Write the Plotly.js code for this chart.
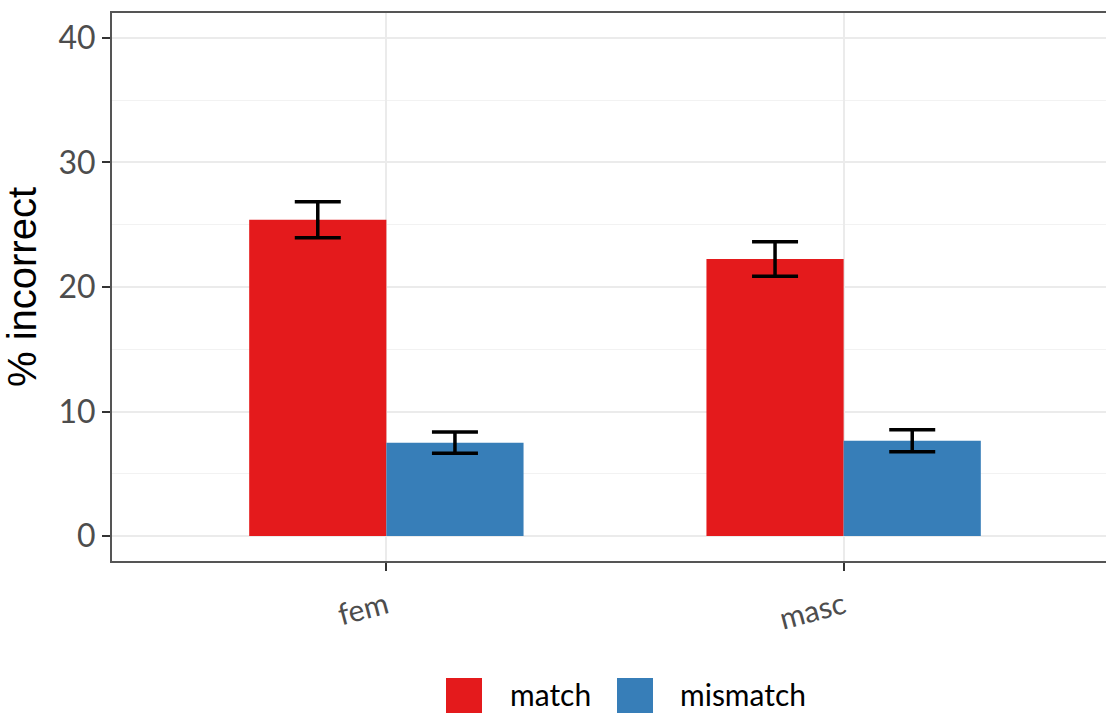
<!DOCTYPE html>
<html>
<head>
<meta charset="utf-8">
<script src="https://cdn.plot.ly/plotly-3.0.1.min.js"></script>
<style>
  html, body { margin: 0; padding: 0; overflow: hidden; background: #ffffff; }
  #chart { width: 1118px; height: 713px; }
</style>
</head>
<body>
<div id="chart"></div>
<script>
// Share of incorrect responses by gender and agreement condition
const genders = ['fem', 'masc'];
const matchPct = [25.4, 22.25];
const matchSE = [1.45, 1.38];
const mismatchPct = [7.5, 7.65];
const mismatchSE = [0.85, 0.88];
const groups = ['match', 'mismatch'];
const groupColors = ['#E41A1C', '#377EB8'];
const yTicks = [0, 10, 20, 30, 40];

const W = 1118, H = 713;
const M = { l: 112, r: 0, t: 13, b: 152 };
const plotW = W - M.l - M.r, plotH = H - M.t - M.b;
const px2x = px => (px - M.l) / plotW;
const py2y = py => (H - M.b - py) / plotH;

const labelFont = 'Lato, "Open Sans", sans-serif';

function barTrace(name, vals, se, color) {
  return {
    type: 'bar',
    name: name,
    x: genders,
    y: vals,
    marker: { color: color, line: { width: 0 } },
    error_y: { type: 'data', array: se, visible: true, color: '#000000', thickness: 3.5, width: 23 },
    showlegend: false,
    hoverinfo: 'x+y+name'
  };
}

const traces = [
  barTrace(groups[0], matchPct, matchSE, groupColors[0]),
  barTrace(groups[1], mismatchPct, mismatchSE, groupColors[1])
];

// Legend keys drawn as large squares below the x axis
const legendKeys = [
  { label: groups[0], color: groupColors[0], x0: 446, x1: 482, tx: 508 },
  { label: groups[1], color: groupColors[1], x0: 617, x1: 653, tx: 678 }
];
const shapes = legendKeys.map(k => ({
  type: 'rect', xref: 'paper', yref: 'paper',
  x0: px2x(k.x0), x1: px2x(k.x1), y0: py2y(678), y1: py2y(714),
  fillcolor: k.color, line: { width: 0 }, layer: 'above'
}));
const annotations = legendKeys.map(k => ({
  xref: 'paper', yref: 'paper', x: px2x(k.tx), y: py2y(694),
  xanchor: 'left', yanchor: 'middle', showarrow: false,
  text: k.label, font: { family: labelFont, size: 30, color: '#000000' }
}));

const layout = {
  width: W, height: H,
  margin: M,
  paper_bgcolor: '#ffffff', plot_bgcolor: '#ffffff',
  barmode: 'group', bargap: 0.4, bargroupgap: 0,
  showlegend: false,
  xaxis: {
    type: 'category', range: [-0.6, 1.6],
    showgrid: true, gridcolor: '#ebebeb', gridwidth: 2,
    showline: true, linecolor: '#555555', linewidth: 2, mirror: true,
    ticks: 'outside', ticklen: 8, tickwidth: 2, tickcolor: '#333333',
    tickangle: -15,
    tickfont: { family: labelFont, size: 30, color: '#4d4d4d' },
    ticklabelstandoff: 6,
    zeroline: false, fixedrange: true
  },
  yaxis: {
    range: [-2, 42],
    tickvals: yTicks, ticktext: yTicks.map(String),
    showgrid: true, gridcolor: '#ebebeb', gridwidth: 2,
    minor: { dtick: 5, tick0: 0, showgrid: true, gridcolor: '#f2f2f2', gridwidth: 1, ticks: '' },
    showline: true, linecolor: '#555555', linewidth: 2, mirror: true,
    ticks: 'outside', ticklen: 8, tickwidth: 2, tickcolor: '#333333',
    tickfont: { family: labelFont, size: 32, color: '#4d4d4d' },
    ticklabelstandoff: 0,
    zeroline: false, fixedrange: true,
    title: {
      text: '% incorrect', standoff: 14,
      font: { family: '"Liberation Sans", Arial, sans-serif', size: 40, color: '#000000' }
    }
  },
  shapes: shapes,
  annotations: annotations
};

Plotly.newPlot('chart', traces, layout, { displayModeBar: false, staticPlot: true });
</script>
</body>
</html>
